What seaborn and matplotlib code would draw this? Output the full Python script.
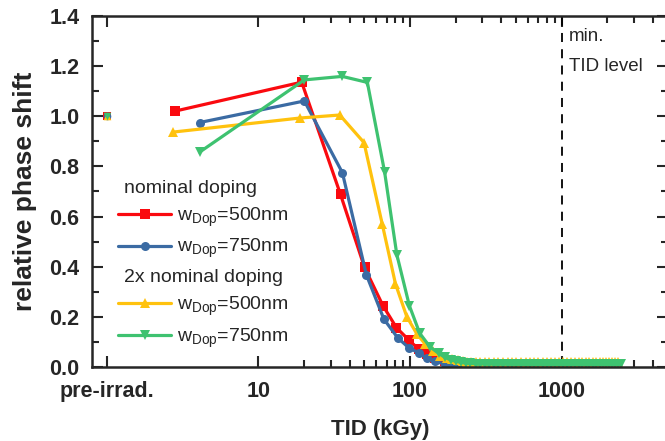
import numpy as np
import pandas as pd
import matplotlib
matplotlib.use("Agg")
import matplotlib.pyplot as plt
from matplotlib.lines import Line2D
from matplotlib.ticker import FixedLocator, NullFormatter
import seaborn as sns

# ---------------- data ----------------
pre_dose = 1.0
pre_value = 1.0

red_dose = [2.8, 19.3, 34.8, 50.1, 66.2, 81.3, 98, 114, 130, 146,
            170, 186, 202, 218, 234, 250, 270, 290, 310, 330, 355, 380, 410, 440, 470, 500,
            540, 580, 620, 660, 700, 750, 800, 850, 900, 960, 1020, 1080, 1150, 1220, 1290,
            1360, 1440, 1520, 1600, 1690, 1780, 1870, 1960, 2060, 2160, 2260]
red_val = [1.02, 1.136, 0.688, 0.397, 0.245, 0.157, 0.108, 0.071, 0.050, 0.035,
           0.022, 0.016, 0.012, 0.010, 0.009, 0.008, 0.008, 0.008, 0.007, 0.007, 0.007, 0.007, 0.007, 0.006, 0.006, 0.006,
           0.006, 0.006, 0.006, 0.006, 0.006, 0.006, 0.006, 0.006, 0.006, 0.006, 0.006, 0.006, 0.006, 0.006, 0.006,
           0.006, 0.006, 0.006, 0.006, 0.006, 0.006, 0.006, 0.006, 0.006, 0.006, 0.006]

blue_dose = [4.1, 20.1, 35.8, 51.5, 67.2, 83, 98, 115, 129, 145,
             170, 186, 202, 218, 234, 250, 270, 290, 310, 330, 355, 380, 410, 440, 470, 500,
             540, 580, 620, 660, 700, 750, 800, 850, 900, 960, 1020, 1080, 1150, 1220, 1290,
             1360, 1440, 1520, 1600, 1690, 1780, 1870, 1960, 2060, 2160, 2260]
blue_val = [0.975, 1.061, 0.775, 0.368, 0.191, 0.116, 0.077, 0.055, 0.035, 0.022,
            0.012, 0.008, 0.006, 0.005, 0.005, 0.004, 0.004, 0.004, 0.004, 0.004, 0.004, 0.004, 0.004, 0.004, 0.004, 0.004,
            0.004, 0.004, 0.004, 0.004, 0.004, 0.004, 0.004, 0.004, 0.004, 0.004, 0.004, 0.004, 0.004, 0.004, 0.004,
            0.004, 0.004, 0.004, 0.004, 0.004, 0.004, 0.004, 0.004, 0.004, 0.004, 0.004]

yellow_dose = [2.75, 18.8, 34.4, 49.7, 65.5, 80.1, 95.1, 110.6, 126, 142, 158,
               174, 190, 206, 222, 238, 254, 270, 290, 310, 330, 355, 380, 410, 440, 470, 500,
               540, 580, 620, 660, 700, 750, 800, 850, 900, 960, 1020, 1080, 1150, 1220, 1290,
               1360, 1440, 1520, 1600, 1690, 1780, 1870, 1960, 2060, 2160, 2260, 2340]
yellow_val = [0.937, 0.993, 1.005, 0.895, 0.571, 0.332, 0.201, 0.133, 0.091, 0.064, 0.045,
              0.036, 0.030, 0.026, 0.023, 0.021, 0.020, 0.020, 0.020, 0.020, 0.020, 0.020, 0.020, 0.020, 0.020, 0.020, 0.020,
              0.020, 0.020, 0.020, 0.020, 0.020, 0.020, 0.020, 0.020, 0.019, 0.019, 0.019, 0.019, 0.019, 0.019, 0.019,
              0.019, 0.019, 0.019, 0.019, 0.018, 0.018, 0.018, 0.018, 0.018, 0.018, 0.018, 0.018]

green_dose = [4.1, 20.1, 35.7, 52.3, 67.9, 81.8, 98.9, 115.7, 135, 154,
              170, 186, 202, 218, 234, 250, 270, 290, 310, 330, 355, 380, 410, 440, 470, 500,
              540, 580, 620, 660, 700, 750, 800, 850, 900, 960, 1020, 1080, 1150, 1220, 1290,
              1360, 1440, 1520, 1600, 1690, 1780, 1870, 1960, 2060, 2160, 2260, 2360, 2460]
green_val = [0.857, 1.145, 1.159, 1.135, 0.779, 0.448, 0.245, 0.135, 0.081, 0.055,
             0.038, 0.028, 0.022, 0.018, 0.015, 0.014, 0.013, 0.012, 0.012, 0.012, 0.011, 0.011, 0.011, 0.011, 0.011, 0.011,
             0.010, 0.010, 0.010, 0.010, 0.010, 0.010, 0.010, 0.010, 0.010, 0.010, 0.010, 0.010, 0.010, 0.010, 0.010,
             0.010, 0.010, 0.010, 0.010, 0.010, 0.010, 0.010, 0.010, 0.010, 0.010, 0.010, 0.010, 0.010]

x_ticks = [1, 10, 100, 1000]
x_ticklabels = ["pre-irrad.", "10", "100", "1000"]
x_minor = [20, 30, 40, 50, 60, 70, 80, 90, 200, 300, 400, 500, 600, 700, 800, 900, 2000, 3000, 4000]
y_ticks = [0.0, 0.2, 0.4, 0.6, 0.8, 1.0, 1.2, 1.4]
min_tid = 1000

series_labels = [r"w$_{\mathregular{Dop}}$=500nm", r"w$_{\mathregular{Dop}}$=750nm",
                 r"w$_{\mathregular{Dop}}$=500nm", r"w$_{\mathregular{Dop}}$=750nm"]
group_labels = ["nominal doping", "2x nominal doping"]

# ---------------- style ----------------
sns.set_theme(style="ticks")
plt.rcParams["font.family"] = ["Liberation Sans", "DejaVu Sans"]
plt.rcParams["mathtext.default"] = "regular"
plt.rcParams["axes.linewidth"] = 1.8

colors = ["#FA0A0F", "#3B6BA3", "#FFC20E", "#3EC270"]
markers = ["s", "o", "^", "v"]

fig = plt.figure(figsize=(6.65, 4.41), dpi=100)
ax = fig.add_axes([0.1383, 0.1678, 0.8659, 0.7960])

all_series = [(red_dose, red_val), (blue_dose, blue_val),
              (yellow_dose, yellow_val), (green_dose, green_val)]

for (d, v), c, m in zip(all_series, colors, markers):
    df = pd.DataFrame({"dose": d, "val": v})
    sns.lineplot(data=df, x="dose", y="val", ax=ax, color=c, marker=m,
                 markersize=6.5, markeredgewidth=0, linewidth=2.3, sort=False,
                 estimator=None, legend=False)

# pre-irradiation points (all overlapping)
for c, m in zip(colors, markers):
    sns.scatterplot(x=[pre_dose], y=[pre_value], ax=ax, color=c, marker=m,
                    s=30, linewidth=0, legend=False, zorder=5)

ax.axvline(min_tid, color="black", lw=1.3, ls=(0, (5, 4)), zorder=1)
ax.text(0.828, 0.941, "min.", transform=ax.transAxes, fontsize=13.5, va="center", ha="left")
ax.text(0.828, 0.856, "TID level", transform=ax.transAxes, fontsize=13.5, va="center", ha="left")

ax.set_xscale("log")
ax.set_xlim(0.8, 5000)
ax.set_ylim(0, 1.4)
ax.set_xticks(x_ticks)
ax.set_xticklabels(x_ticklabels)
ax.xaxis.set_minor_locator(FixedLocator(x_minor))
ax.xaxis.set_minor_formatter(NullFormatter())
ax.set_yticks(y_ticks)
ax.set_yticklabels([f"{t:.1f}" for t in y_ticks])
ax.yaxis.set_minor_locator(FixedLocator([0.1, 0.3, 0.5, 0.7, 0.9, 1.1, 1.3]))

ax.tick_params(which="both", direction="in", top=True, right=True, width=1.5,
               labelsize=15.5)
ax.tick_params(axis="x", which="major", pad=10)
ax.tick_params(axis="y", which="major", pad=9)
ax.tick_params(which="major", length=8)
ax.tick_params(which="minor", length=5)
for lab in ax.get_xticklabels() + ax.get_yticklabels():
    lab.set_fontweight("bold")

ax.set_xlabel("TID (kGy)", fontsize=16, fontweight="bold", labelpad=12)
ax.set_ylabel("relative phase shift", fontsize=19, fontweight="bold", labelpad=9)

# legend with sub-headers
blank = Line2D([], [], linestyle="none", marker=None)
handles = [blank]
labels = [group_labels[0]]
for i in range(4):
    if i == 2:
        handles.append(blank)
        labels.append(group_labels[1])
    handles.append(Line2D([], [], color=colors[i], marker=markers[i], lw=2.3, markersize=6.5,
                          markeredgewidth=0))
    labels.append(series_labels[i])

leg = ax.legend(handles, labels, loc="upper left", bbox_to_anchor=(0.046, 0.535),
                frameon=False, fontsize=14, numpoints=1, handlelength=2.7,
                handletextpad=0.3, labelspacing=0.44, borderaxespad=0, borderpad=0)
for vpack in leg._legend_handle_box.get_children():
    for hpack in vpack.get_children():
        txt = hpack.get_children()[1].get_children()[0]
        if txt.get_text() in group_labels:
            hpack.get_children()[0].set_width(0)

fig.savefig("out.png", dpi=100)
